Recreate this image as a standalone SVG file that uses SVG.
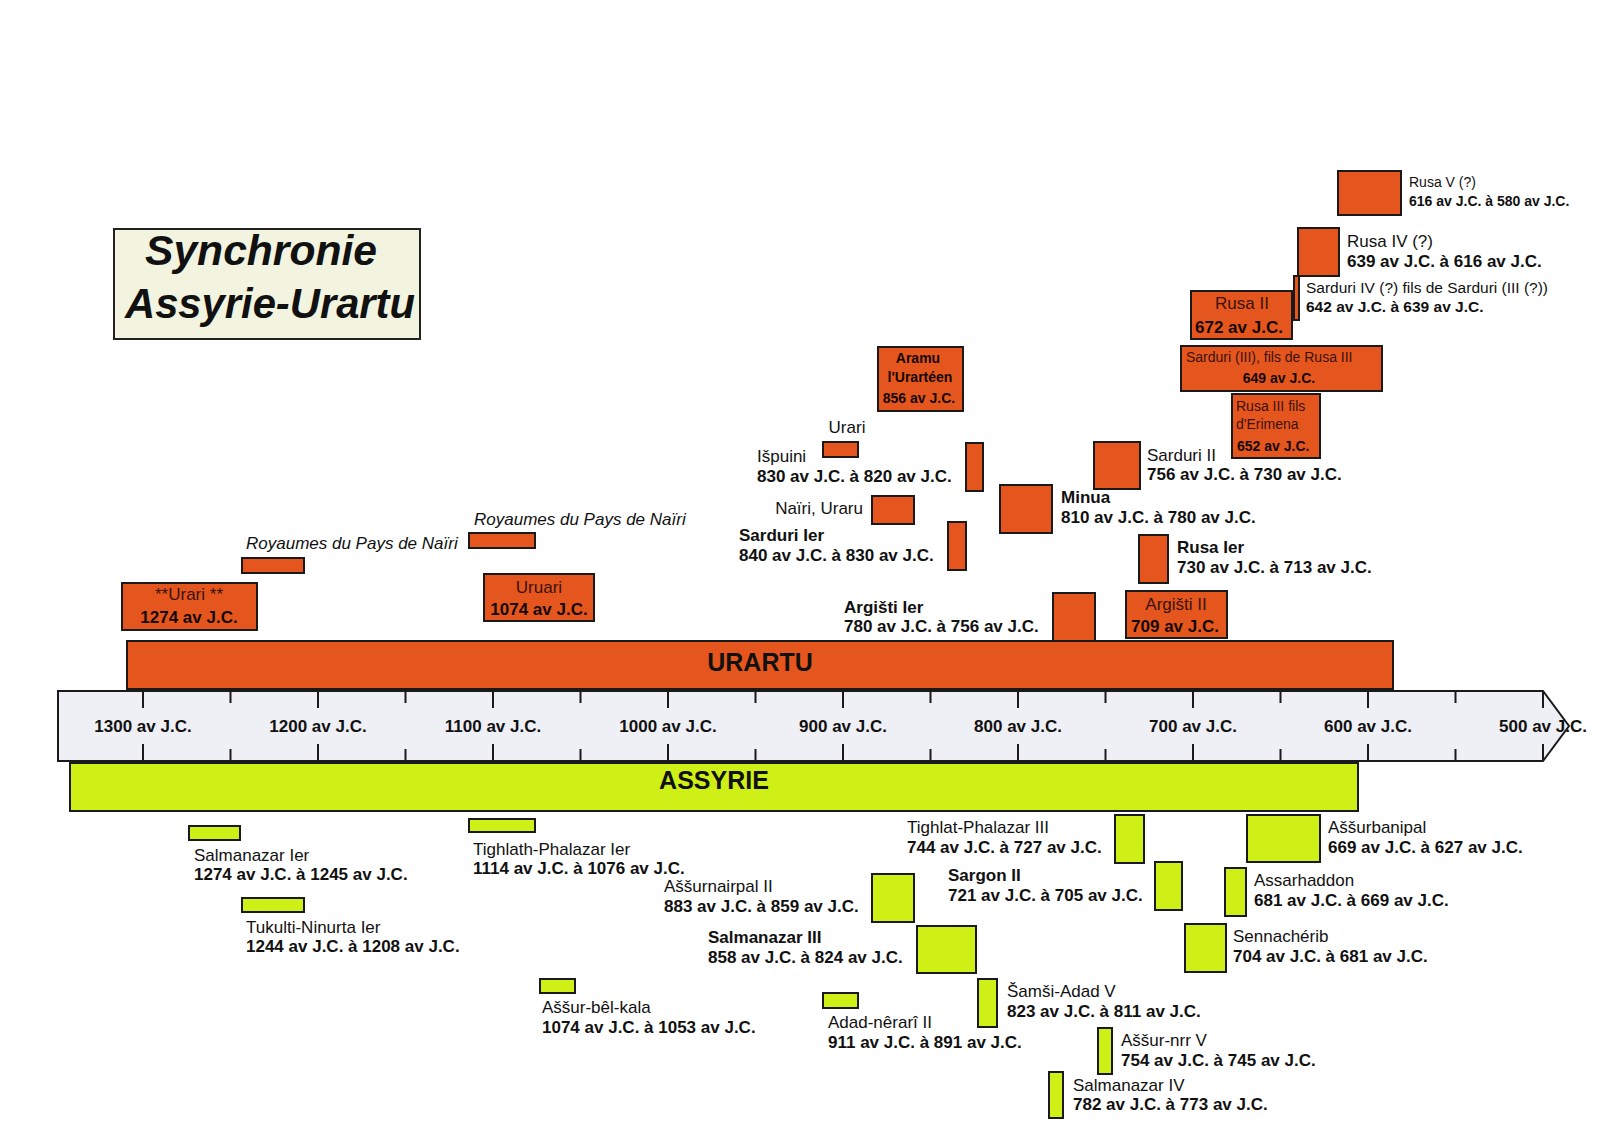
<svg xmlns="http://www.w3.org/2000/svg" width="1600" height="1134" viewBox="0 0 1600 1134">
<style>
text{font-family:"Liberation Sans",Arial,Helvetica,sans-serif;font-size:17px;fill:#111}
.b{font-weight:bold}
.s14{font-size:14px}
.s15{font-size:15.5px}
.it{font-style:italic}
.in{fill:#3a1208}
.inb{fill:#140703;font-weight:bold}
.c{text-anchor:middle}
.e{text-anchor:end}
.u{fill:#E5561E;stroke:#1a1a1a;stroke-width:2}
.a{fill:#CFF016;stroke:#1a1a1a;stroke-width:2}
.tk{stroke:#1a1a1a;stroke-width:2}
.lab{font-weight:bold;text-anchor:middle}
.big{font-weight:bold;font-size:25px;text-anchor:middle}
.ttl{font-weight:bold;font-style:italic;font-size:42px;text-anchor:middle}
</style>
<rect width="1600" height="1134" fill="#fff"/>

<g id="title">
<rect x="114" y="229" width="306" height="110" fill="#F2F4DF" stroke="#222" stroke-width="2"/>
<text x="261" y="265" class="ttl" textLength="232" lengthAdjust="spacingAndGlyphs">Synchronie</text>
<text x="270" y="318" class="ttl" textLength="290" lengthAdjust="spacingAndGlyphs">Assyrie-Urartu</text>
</g>

<g id="urartu-bar">
<rect class="u" x="127" y="641" width="1266" height="48"/>
<text x="760" y="671" class="big">URARTU</text>
</g>

<g id="axis">
<polygon points="58,691 1543,691 1569,726 1543,761 58,761" fill="#EFEFF6" stroke="#1a1a1a" stroke-width="2"/>
<path class="tk" d="M143,691v17M143,761v-17M318,691v17M318,761v-17M493,691v17M493,761v-17M668,691v17M668,761v-17M843,691v17M843,761v-17M1018,691v17M1018,761v-17M1193,691v17M1193,761v-17M1368,691v17M1368,761v-17M1543,691v17M1543,761v-17"/>
<path class="tk" d="M230.5,691v12M230.5,761v-12M405.5,691v12M405.5,761v-12M580.5,691v12M580.5,761v-12M755.5,691v12M755.5,761v-12M930.5,691v12M930.5,761v-12M1105.5,691v12M1105.5,761v-12M1280.5,691v12M1280.5,761v-12M1455.5,691v12M1455.5,761v-12"/>
<text x="143" y="732" class="lab">1300 av J.C.</text>
<text x="318" y="732" class="lab">1200 av J.C.</text>
<text x="493" y="732" class="lab">1100 av J.C.</text>
<text x="668" y="732" class="lab">1000 av J.C.</text>
<text x="843" y="732" class="lab">900 av J.C.</text>
<text x="1018" y="732" class="lab">800 av J.C.</text>
<text x="1193" y="732" class="lab">700 av J.C.</text>
<text x="1368" y="732" class="lab">600 av J.C.</text>
<text x="1543" y="732" class="lab">500 av J.C.</text>
</g>

<g id="assyrie-bar">
<rect class="a" x="70" y="763" width="1288" height="48"/>
<text x="714" y="789" class="big">ASSYRIE</text>
</g>

<!-- Urartu nodes -->
<g id="u-urari-1274">
<rect class="u" x="122" y="583" width="135" height="47"/>
<text x="189" y="600" class="c in">**Urari **</text>
<text x="189" y="623" class="c inb">1274 av J.C.</text>
</g>
<g id="u-nairi-1">
<rect class="u" x="242" y="558" width="62" height="15"/>
<text x="246" y="549" class="it">Royaumes du Pays de Naïri</text>
</g>
<g id="u-nairi-2">
<rect class="u" x="469" y="533" width="66" height="15"/>
<text x="474" y="525" class="it">Royaumes du Pays de Naïri</text>
</g>
<g id="u-uruari">
<rect class="u" x="484" y="574" width="110" height="47"/>
<text x="539" y="593" class="c in">Uruari</text>
<text x="539" y="615" class="c inb">1074 av J.C.</text>
</g>
<g id="u-aramu">
<rect class="u" x="878" y="347" width="85" height="64"/>
<text x="918" y="363" class="c inb s14">Aramu</text>
<text x="920" y="382" class="c inb s14">l'Urartéen</text>
<text x="919" y="403" class="c inb s14">856 av J.C.</text>
</g>
<g id="u-urari">
<rect class="u" x="823" y="442" width="35" height="15"/>
<text x="847" y="433" class="c">Urari</text>
</g>
<g id="u-ispuini">
<rect class="u" x="966" y="443" width="17" height="48"/>
<text x="757" y="462">Išpuini</text>
<text x="757" y="482" class="b">830 av J.C. à 820 av J.C.</text>
</g>
<g id="u-nairi-uraru">
<rect class="u" x="872" y="496" width="42" height="28"/>
<text x="863" y="514" class="e">Naïri, Uraru</text>
</g>
<g id="u-sarduri-1">
<rect class="u" x="948" y="522" width="18" height="48"/>
<text x="739" y="541" class="b">Sarduri Ier</text>
<text x="739" y="561" class="b">840 av J.C. à 830 av J.C.</text>
</g>
<g id="u-minua">
<rect class="u" x="1000" y="485" width="52" height="48"/>
<text x="1061" y="503" class="b">Minua</text>
<text x="1061" y="523" class="b">810 av J.C. à 780 av J.C.</text>
</g>
<g id="u-argisti-1">
<rect class="u" x="1053" y="593" width="42" height="48"/>
<text x="844" y="613" class="b">Argišti Ier</text>
<text x="844" y="632" class="b">780 av J.C. à 756 av J.C.</text>
</g>
<g id="u-sarduri-2">
<rect class="u" x="1094" y="442" width="46" height="47"/>
<text x="1147" y="461">Sarduri II</text>
<text x="1147" y="480" class="b">756 av J.C. à 730 av J.C.</text>
</g>
<g id="u-rusa-1">
<rect class="u" x="1139" y="535" width="29" height="48"/>
<text x="1177" y="553" class="b">Rusa Ier</text>
<text x="1177" y="573" class="b">730 av J.C. à 713 av J.C.</text>
</g>
<g id="u-argisti-2">
<rect class="u" x="1126" y="591" width="101" height="47"/>
<text x="1176" y="610" class="c in">Argišti II</text>
<text x="1175" y="632" class="c inb">709 av J.C.</text>
</g>
<g id="u-rusa-3">
<rect class="u" x="1232" y="394" width="88" height="64"/>
<text x="1236" y="411" class="in s14">Rusa III fils</text>
<text x="1236" y="429" class="in s14">d'Erimena</text>
<text x="1237" y="451" class="inb s14">652 av J.C.</text>
</g>
<g id="u-sarduri-3">
<rect class="u" x="1181" y="346" width="201" height="45"/>
<text x="1186" y="362" class="in s14">Sarduri (III), fils de Rusa III</text>
<text x="1279" y="383" class="c inb s14">649 av J.C.</text>
</g>
<g id="u-rusa-2">
<rect class="u" x="1191" y="291" width="101" height="48"/>
<text x="1242" y="309" class="c in">Rusa II</text>
<text x="1195" y="333" class="inb">672 av J.C.</text>
</g>
<g id="u-sarduri-4">
<rect class="u" x="1294" y="276" width="5" height="44"/>
<text x="1306" y="293" class="s15">Sarduri IV (?) fils de Sarduri (III (?))</text>
<text x="1306" y="312" class="b s15">642 av J.C. à 639 av J.C.</text>
</g>
<g id="u-rusa-4">
<rect class="u" x="1298" y="228" width="41" height="48"/>
<text x="1347" y="247">Rusa IV (?)</text>
<text x="1347" y="267" class="b">639 av J.C. à 616 av J.C.</text>
</g>
<g id="u-rusa-5">
<rect class="u" x="1338" y="171" width="63" height="44"/>
<text x="1409" y="187" class="s14">Rusa V (?)</text>
<text x="1409" y="206" class="b s14">616 av J.C. à 580 av J.C.</text>
</g>

<!-- Assyria nodes -->
<g id="a-salmanazar-1">
<rect class="a" x="189" y="826" width="51" height="14"/>
<text x="194" y="861">Salmanazar Ier</text>
<text x="194" y="880" class="b">1274 av J.C. à 1245 av J.C.</text>
</g>
<g id="a-tukulti-ninurta-1">
<rect class="a" x="242" y="898" width="62" height="14"/>
<text x="246" y="933">Tukulti-Ninurta Ier</text>
<text x="246" y="952" class="b">1244 av J.C. à 1208 av J.C.</text>
</g>
<g id="a-tighlath-phalazar-1">
<rect class="a" x="469" y="819" width="66" height="13"/>
<text x="473" y="855">Tighlath-Phalazar Ier</text>
<text x="473" y="874" class="b">1114 av J.C. à 1076 av J.C.</text>
</g>
<g id="a-assur-bel-kala">
<rect class="a" x="540" y="979" width="35" height="14"/>
<text x="542" y="1013">Aššur-bêl-kala</text>
<text x="542" y="1033" class="b">1074 av J.C. à 1053 av J.C.</text>
</g>
<g id="a-assurnairpal-2">
<rect class="a" x="872" y="874" width="42" height="48"/>
<text x="664" y="892">Aššurnairpal II</text>
<text x="664" y="912" class="b">883 av J.C. à 859 av J.C.</text>
</g>
<g id="a-salmanazar-3">
<rect class="a" x="917" y="926" width="59" height="47"/>
<text x="708" y="943" class="b">Salmanazar III</text>
<text x="708" y="963" class="b">858 av J.C. à 824 av J.C.</text>
</g>
<g id="a-adad-nerari-2">
<rect class="a" x="823" y="993" width="35" height="15"/>
<text x="828" y="1028">Adad-nêrarî II</text>
<text x="828" y="1048" class="b">911 av J.C. à 891 av J.C.</text>
</g>
<g id="a-samsi-adad-5">
<rect class="a" x="978" y="979" width="19" height="48"/>
<text x="1007" y="997">Šamši-Adad V</text>
<text x="1007" y="1017" class="b">823 av J.C. à 811 av J.C.</text>
</g>
<g id="a-tighlat-phalazar-3">
<rect class="a" x="1115" y="815" width="29" height="48"/>
<text x="907" y="833">Tighlat-Phalazar III</text>
<text x="907" y="853" class="b">744 av J.C. à 727 av J.C.</text>
</g>
<g id="a-sargon-2">
<rect class="a" x="1155" y="862" width="27" height="48"/>
<text x="948" y="881" class="b">Sargon II</text>
<text x="948" y="901" class="b">721 av J.C. à 705 av J.C.</text>
</g>
<g id="a-assur-nrr-5">
<rect class="a" x="1098" y="1028" width="14" height="46"/>
<text x="1121" y="1046">Aššur-nrr V</text>
<text x="1121" y="1066" class="b">754 av J.C. à 745 av J.C.</text>
</g>
<g id="a-salmanazar-4">
<rect class="a" x="1049" y="1072" width="14" height="46"/>
<text x="1073" y="1091">Salmanazar IV</text>
<text x="1073" y="1110" class="b">782 av J.C. à 773 av J.C.</text>
</g>
<g id="a-assurbanipal">
<rect class="a" x="1247" y="815" width="73" height="47"/>
<text x="1328" y="833">Aššurbanipal</text>
<text x="1328" y="853" class="b">669 av J.C. à 627 av J.C.</text>
</g>
<g id="a-assarhaddon">
<rect class="a" x="1225" y="868" width="21" height="48"/>
<text x="1254" y="886">Assarhaddon</text>
<text x="1254" y="906" class="b">681 av J.C. à 669 av J.C.</text>
</g>
<g id="a-sennacherib">
<rect class="a" x="1185" y="924" width="41" height="48"/>
<text x="1233" y="942">Sennachérib</text>
<text x="1233" y="962" class="b">704 av J.C. à 681 av J.C.</text>
</g>
<g id="connectors"/>
</svg>
